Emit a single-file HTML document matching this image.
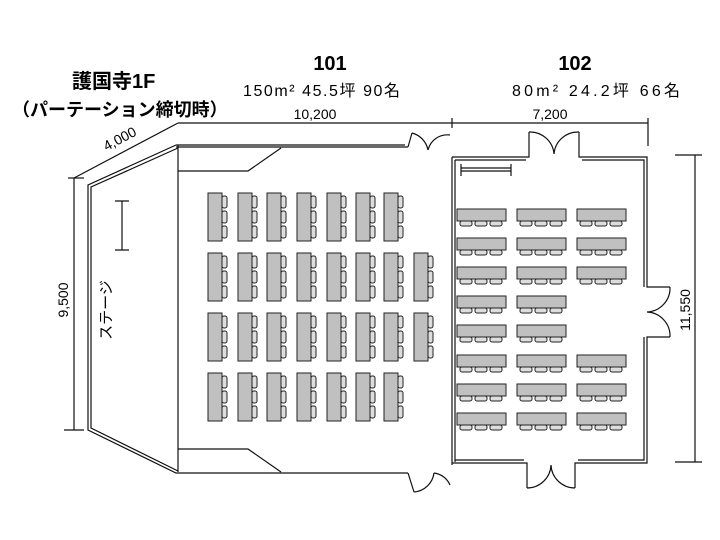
<!DOCTYPE html>
<html><head><meta charset="utf-8"><style>
html,body{margin:0;padding:0;background:#fff;}
svg{display:block;}
text{font-family:"Liberation Sans","Noto Sans CJK JP",sans-serif;fill:#000;}
</style></head><body>
<svg width="720" height="540" viewBox="0 0 720 540" xmlns="http://www.w3.org/2000/svg">
<defs>
<g id="tv">
 <rect x="0" y="0" width="14" height="48" fill="#c0c0c0" stroke="#222" stroke-width="1"/>
 <rect x="14" y="3" width="5" height="12" rx="2" fill="#ddd" stroke="#222" stroke-width="1"/>
 <rect x="14" y="18" width="5" height="12" rx="2" fill="#ddd" stroke="#222" stroke-width="1"/>
 <rect x="14" y="33" width="5" height="12" rx="2" fill="#ddd" stroke="#222" stroke-width="1"/>
</g>
<g id="th">
 <rect x="0" y="0" width="49" height="12" fill="#c0c0c0" stroke="#222" stroke-width="1"/>
 <rect x="3" y="12" width="12" height="5" rx="2" fill="#ddd" stroke="#222" stroke-width="1"/>
 <rect x="18" y="12" width="12" height="5" rx="2" fill="#ddd" stroke="#222" stroke-width="1"/>
 <rect x="33" y="12" width="12" height="5" rx="2" fill="#ddd" stroke="#222" stroke-width="1"/>
</g>
</defs>
<g fill="none" stroke="#111" stroke-width="1.2">
 <line x1="178" y1="123" x2="648" y2="123"/>
 <line x1="452" y1="118" x2="452" y2="128"/>
 <line x1="648" y1="118" x2="648" y2="146"/>
 <line x1="178" y1="123" x2="74" y2="178"/>
 <line x1="74" y1="178" x2="74" y2="430"/>
 <line x1="68" y1="178" x2="84" y2="178"/>
 <line x1="64" y1="430" x2="84" y2="430"/>
 <line x1="695" y1="155" x2="695" y2="462"/>
 <line x1="675" y1="155" x2="702" y2="155"/>
 <line x1="675" y1="462" x2="702" y2="462"/>
 <path d="M176 145 L405 145 M176 147 L408 147"/>
 <path d="M176 145 L88 185 L88 430 L176 473 L408 473"/>
 <path d="M178 148 L91 187 L91 428 L178 471" />
 <line x1="178" y1="145" x2="178" y2="472"/>
 <path d="M178 171 L248 171 L281 148"/>
 <path d="M178 449 L248 449 L281 472"/>
 <path d="M408 147 L412 133 M408 473 L414 492"/>
 <path d="M412 133 A22 22 0 0 1 428 150 M414 492 A22 22 0 0 0 434 473"/>
 <path d="M428 150 A20 20 0 0 1 450 135 M434 473 A20 20 0 0 1 450 485"/>
 <path d="M452 157 L452 465 M455 160 L455 462"/>
 <path d="M452 157 L529 157 L529 132 M579 132 L579 157 L647 157 L647 287 L670 287 M670 337 L647 337 L647 463 L575 463 L575 488 M527 488 L527 463 L452 463"/>
 <path d="M455 160 L526 160 M582 160 L644 160 L644 287 M644 337 L644 460 L578 460 M524 460 L455 460"/>
 <path d="M529 132 A24 24 0 0 1 554 154 A24 24 0 0 1 579 132"/>
 <path d="M527 488 A24 24 0 0 0 551 465 A24 24 0 0 0 575 488"/>
 <path d="M670 287 A24 24 0 0 1 647 312 A24 24 0 0 1 670 337"/>
 <path d="M115 201 H129 M122 201 V250 M115 250 H129"/>
 <path d="M461 164 V176 M511 164 V176 M461 168 H511 M461 171 H511"/>
</g>
<g>
 <use href="#tv" x="208" y="193"/><use href="#tv" x="238" y="193"/><use href="#tv" x="267" y="193"/><use href="#tv" x="297" y="193"/><use href="#tv" x="327" y="193"/><use href="#tv" x="356" y="193"/><use href="#tv" x="384" y="193"/>
 <use href="#tv" x="208" y="253"/><use href="#tv" x="238" y="253"/><use href="#tv" x="267" y="253"/><use href="#tv" x="297" y="253"/><use href="#tv" x="327" y="253"/><use href="#tv" x="356" y="253"/><use href="#tv" x="384" y="253"/><use href="#tv" x="414" y="253"/>
 <use href="#tv" x="208" y="313"/><use href="#tv" x="238" y="313"/><use href="#tv" x="267" y="313"/><use href="#tv" x="297" y="313"/><use href="#tv" x="327" y="313"/><use href="#tv" x="356" y="313"/><use href="#tv" x="384" y="313"/><use href="#tv" x="414" y="313"/>
 <use href="#tv" x="208" y="373"/><use href="#tv" x="238" y="373"/><use href="#tv" x="267" y="373"/><use href="#tv" x="297" y="373"/><use href="#tv" x="327" y="373"/><use href="#tv" x="356" y="373"/><use href="#tv" x="384" y="373"/>
</g>
<g>
 <use href="#th" x="457" y="209"/><use href="#th" x="517" y="209"/><use href="#th" x="577" y="209"/>
 <use href="#th" x="457" y="238"/><use href="#th" x="517" y="238"/><use href="#th" x="577" y="238"/>
 <use href="#th" x="457" y="267"/><use href="#th" x="517" y="267"/><use href="#th" x="577" y="267"/>
 <use href="#th" x="457" y="296"/><use href="#th" x="517" y="296"/>
 <use href="#th" x="457" y="325"/><use href="#th" x="517" y="325"/>
 <use href="#th" x="457" y="355"/><use href="#th" x="517" y="355"/><use href="#th" x="577" y="355"/>
 <use href="#th" x="457" y="384"/><use href="#th" x="517" y="384"/><use href="#th" x="577" y="384"/>
 <use href="#th" x="457" y="413"/><use href="#th" x="517" y="413"/><use href="#th" x="577" y="413"/>
</g>
<text x="72" y="88" font-size="20" font-weight="bold">護国寺1F</text>
<text x="12" y="116" font-size="18" font-weight="bold">（パーテーション締切時）</text>
<text x="330" y="70" font-size="20" font-weight="bold" text-anchor="middle">101</text>
<text x="575" y="70" font-size="20" font-weight="bold" text-anchor="middle">102</text>
<text x="243" y="96" font-size="16" textLength="157">150m² 45.5坪 90名</text>
<text x="512" y="96" font-size="16" textLength="168">80m² 24.2坪 66名</text>
<text x="315" y="119" font-size="14" text-anchor="middle">10,200</text>
<text x="550" y="119" font-size="14" text-anchor="middle">7,200</text>
<text x="122" y="143" font-size="14" text-anchor="middle" transform="rotate(-28 122 143)">4,000</text>
<text x="68" y="300" font-size="14" text-anchor="middle" transform="rotate(-90 68 300)">9,500</text>
<text x="690" y="310" font-size="14" text-anchor="middle" transform="rotate(-90 690 310)">11,550</text>
<text x="111" y="310" font-size="15" text-anchor="middle" transform="rotate(-90 111 310)">ステージ</text>
</svg>
</body></html>
